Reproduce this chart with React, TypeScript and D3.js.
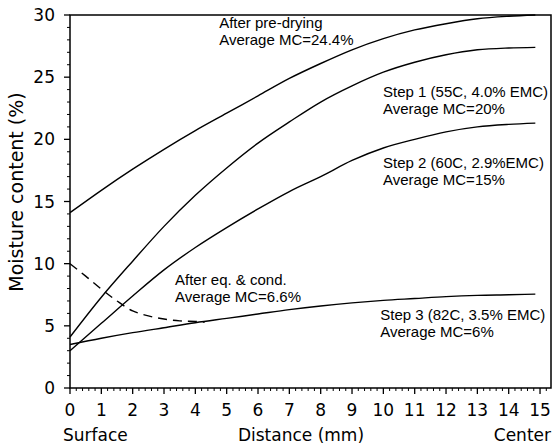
import React from 'react';
import * as d3 from 'd3';

// Distance from surface (mm)
const distances = [0, 1, 2, 3, 4, 5, 6, 7, 8, 9, 10, 11, 12, 13, 14, 14.85];
const preDrying = [14.1, 15.9, 17.6, 19.2, 20.7, 22.1, 23.5, 24.9, 26.1, 27.2, 28.1, 28.8, 29.3, 29.7, 29.9, 30.0];
const step1 = [4.1, 7.3, 10.2, 13.0, 15.5, 17.7, 19.7, 21.4, 23.0, 24.3, 25.4, 26.2, 26.8, 27.2, 27.35, 27.4];
const step2 = [3.0, 5.2, 7.4, 9.5, 11.3, 12.9, 14.4, 15.8, 17.0, 18.3, 19.3, 20.0, 20.6, 21.0, 21.2, 21.3];
const step3 = [3.5, 4.0, 4.45, 4.85, 5.25, 5.6, 5.95, 6.3, 6.6, 6.85, 7.05, 7.2, 7.35, 7.45, 7.5, 7.55];
const condDistances = [0, 0.5, 1, 1.5, 2, 2.5, 3, 3.5, 4, 4.3];
const afterCond = [10, 9.0, 7.95, 7.0, 6.2, 5.8, 5.55, 5.4, 5.35, 5.3];

const xTickValues = [0, 1, 2, 3, 4, 5, 6, 7, 8, 9, 10, 11, 12, 13, 14, 15];
const xTickLabels = ['0', '1', '2', '3', '4', '5', '6', '7', '8', '9', '10', '11', '12', '13', '14', '15'];
const yTickValues = [0, 5, 10, 15, 20, 25, 30];
const yTickLabels = ['0', '5', '10', '15', '20', '25', '30'];

const annotationTexts = [
  ['After pre-drying', 'Average MC=24.4%'],
  ['Step 1 (55C, 4.0% EMC)', 'Average MC=20%'],
  ['Step 2 (60C, 2.9%EMC)', 'Average MC=15%'],
  ['After eq. & cond.', 'Average MC=6.6%'],
  ['Step 3 (82C, 3.5% EMC)', 'Average MC=6%'],
];
// anchors in data units (distance, moisture) for first-line baseline
const annotationX = [4.76, 9.99, 9.99, 3.35, 9.9];
const annotationY = [28.95, 23.4, 17.7, 8.3, 5.5];

const W = 555;
const H = 447;

export default function App() {
  const x = d3.scaleLinear().domain([0, 15.35]).range([70, 551]);
  const y = d3.scaleLinear().domain([0, 30]).range([388, 15]);

  const line = d3
    .line<[number, number]>()
    .x((d) => x(d[0]))
    .y((d) => y(d[1]))
    .curve(d3.curveMonotoneX);

  const series = [preDrying, step1, step2, step3];
  const minorX = d3.range(0, 15.35, 0.2).filter((v) => Math.abs(v - Math.round(v)) > 0.01);
  const minorY = d3.range(0, 31, 1).filter((v) => v % 5 !== 0);

  const tickFont = 'DejaVu Sans, sans-serif';
  const annFont = 'Liberation Sans, Arial, sans-serif';

  return (
    <svg
      width={W}
      height={H}
      style={{ position: 'absolute', left: 0, top: 0, background: '#fff' }}
    >
      <rect x={0} y={0} width={W} height={H} fill="#fff" />
      {/* frame */}
      <path
        d={`M${x(0)},${y(0)} L${x(0)},${y(30)} L${x(15.35)},${y(30)} L${x(15.35)},${y(0)} Z`}
        fill="none"
        stroke="#000"
        strokeWidth={1.5}
      />
      {/* y ticks */}
      {yTickValues.map((v) => (
        <line key={'ym' + v} x1={x(0) - 6} x2={x(0)} y1={y(v)} y2={y(v)} stroke="#000" strokeWidth={1.3} />
      ))}
      {minorY.map((v) => (
        <line key={'yn' + v} x1={x(0) - 3} x2={x(0)} y1={y(v)} y2={y(v)} stroke="#000" strokeWidth={1} />
      ))}
      {yTickValues.map((v, i) => (
        <text
          key={'yl' + v}
          x={55}
          y={y(v)}
          dy="0.36em"
          textAnchor="end"
          fontFamily={tickFont}
          fontSize={17}
          fill="#000"
        >
          {yTickLabels[i]}
        </text>
      ))}
      {/* x ticks */}
      {xTickValues.map((v) => (
        <line key={'xm' + v} x1={x(v)} x2={x(v)} y1={y(0)} y2={y(0) + 6} stroke="#000" strokeWidth={1.3} />
      ))}
      {minorX.map((v) => (
        <line key={'xn' + v.toFixed(1)} x1={x(v)} x2={x(v)} y1={y(0)} y2={y(0) + 3} stroke="#000" strokeWidth={1} />
      ))}
      {xTickValues.map((v, i) => (
        <text
          key={'xl' + v}
          x={x(v)}
          y={416}
          textAnchor="middle"
          fontFamily={tickFont}
          fontSize={17}
          fill="#000"
        >
          {xTickLabels[i]}
        </text>
      ))}
      {/* axis titles */}
      <text x={63} y={441} fontFamily={tickFont} fontSize={17} fill="#000">
        Surface
      </text>
      <text x={301} y={441} textAnchor="middle" fontFamily={tickFont} fontSize={17} fill="#000">
        Distance (mm)
      </text>
      <text x={551} y={441} textAnchor="end" fontFamily={tickFont} fontSize={17} fill="#000">
        Center
      </text>
      <text
        transform={`translate(23,${192}) rotate(-90)`}
        textAnchor="middle"
        fontFamily={tickFont}
        fontSize={19}
        fill="#000"
      >
        Moisture content (%)
      </text>
      {/* curves */}
      {series.map((s, i) => (
        <path
          key={'s' + i}
          d={line(distances.map((d, j) => [d, s[j]] as [number, number])) || ''}
          fill="none"
          stroke="#000"
          strokeWidth={1.4}
        />
      ))}
      <path
        d={line(condDistances.map((d, j) => [d, afterCond[j]] as [number, number])) || ''}
        fill="none"
        stroke="#000"
        strokeWidth={1.4}
        strokeDasharray="9,6"
      />
      {/* annotations */}
      {annotationTexts.map((lines, i) =>
        lines.map((t, k) => (
          <text
            key={'a' + i + '-' + k}
            x={x(annotationX[i])}
            y={y(annotationY[i]) + k * 17}
            fontFamily={annFont}
            fontSize={15}
            fill="#000"
          >
            {t}
          </text>
        ))
      )}
    </svg>
  );
}
